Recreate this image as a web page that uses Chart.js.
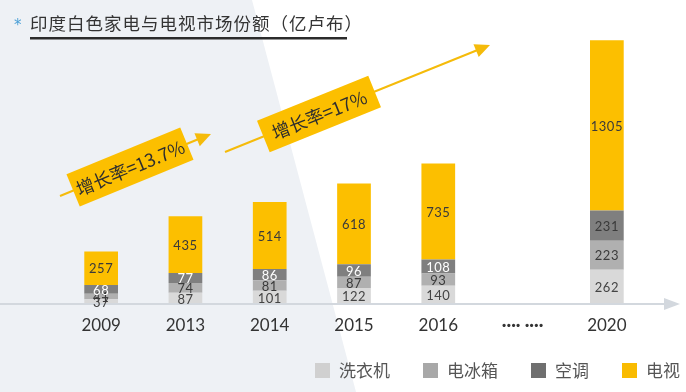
<!DOCTYPE html>
<html>
<head>
<meta charset="utf-8">
<script src="https://cdn.jsdelivr.net/npm/chart.js@4"></script>
<style>
  html, body { margin: 0; padding: 0; background: #fff; }
  #wrap { width: 686px; height: 392px; position: relative; }
</style>
</head>
<body>
<div id="wrap"><canvas id="marketChart"></canvas></div>
<script>
// data
var titleText = '印度白色家电与电视市场份额（亿卢布）';
var years = ['2009', '2013', '2014', '2015', '2016', '···· ····', '2020'];
var seriesNames = ['洗衣机', '电冰箱', '空调', '电视'];
var washer = [37, 87, 101, 122, 140, null, 262];
var fridge = [41, 74, 81, 87, 93, null, 223];
var aircon = [68, 77, 86, 96, 108, null, 231];
var tv = [257, 435, 514, 618, 735, null, 1305];
var growthLabels = ['增长率=13.7%', '增长率=17%'];

var colors = ['#d9d9d9', '#b0b0b0', '#7f7f7f', '#fcbf00'];
var legendColors = ['#d0d0d0', '#a8a8a8', '#6f6f6f', '#f9bb00'];
var labelColors = [
    function () { return '#444'; },
    function () { return '#3a3a3a'; },
    function (i) { return i === 6 ? '#3a3a3a' : '#ffffff'; },
    function () { return '#3a3a3a'; }
];

// background, axis line, title, arrows, legend, bar labels
var decoPlugin = {
    id: 'deco',
    beforeDraw: function (chart) {
        var ctx = chart.ctx;
        ctx.save();
        ctx.fillStyle = '#eef1f5';
        ctx.beginPath();
        ctx.moveTo(0, 0);
        ctx.lineTo(252, 0);
        ctx.lineTo(356, 392);
        ctx.lineTo(0, 392);
        ctx.closePath();
        ctx.fill();

        // title
        ctx.fillStyle = '#4a9fd6';
        ctx.font = '15px "DejaVu Sans"';
        ctx.textBaseline = 'middle';
        ctx.fillText('*', 14, 26);
        ctx.fillStyle = '#333';
        ctx.font = '17.5px "Noto Sans CJK SC"';
        ctx.letterSpacing = '1px';
        ctx.fillText(titleText, 30, 23);
        ctx.letterSpacing = '0px';
        ctx.fillStyle = '#2b2b2b';
        ctx.fillRect(30, 37, 317, 2.5);

        // growth arrows
        drawGrowth(ctx, 60, 196, 211, 134, 130, 167, 123, 35, growthLabels[0]);
        drawGrowth(ctx, 225, 152, 490, 45, 319, 114, 120, 34, growthLabels[1]);
        ctx.restore();
    },
    afterDatasetsDraw: function (chart) {
        var ctx = chart.ctx;
        var area = chart.chartArea;
        ctx.save();
        // axis line with arrow
        ctx.strokeStyle = '#d3d8de';
        ctx.lineWidth = 2;
        ctx.beginPath();
        ctx.moveTo(0, area.bottom);
        ctx.lineTo(668, area.bottom);
        ctx.stroke();
        ctx.fillStyle = '#d3d8de';
        ctx.beginPath();
        ctx.moveTo(680, area.bottom);
        ctx.lineTo(664, area.bottom - 6);
        ctx.lineTo(664, area.bottom + 6);
        ctx.closePath();
        ctx.fill();

        // segment labels
        ctx.font = '13px Lato';
        ctx.letterSpacing = '0.5px';
        ctx.textAlign = 'center';
        ctx.textBaseline = 'middle';
        chart.data.datasets.forEach(function (ds, di) {
            var meta = chart.getDatasetMeta(di);
            meta.data.forEach(function (el, i) {
                if (ds.data[i] == null) return;
                ctx.fillStyle = labelColors[di](i);
                ctx.fillText(String(ds.data[i]), el.x, (el.y + el.base) / 2 + 1);
            });
        });
        ctx.letterSpacing = '0px';

        // legend, right aligned
        ctx.font = '17px "Noto Sans CJK SC"';
        ctx.textAlign = 'left';
        var x = 680;
        var pos = [];
        for (var k = seriesNames.length - 1; k >= 0; k--) {
            var w = ctx.measureText(seriesNames[k]).width;
            x -= w;
            pos[k] = x;
            x -= 24 + 33;
        }
        seriesNames.forEach(function (name, k) {
            ctx.fillStyle = legendColors[k];
            ctx.fillRect(pos[k] - 24, 363, 15, 15);
            ctx.fillStyle = '#555';
            ctx.fillText(name, pos[k], 371);
        });
        ctx.restore();
    }
};

function drawGrowth(ctx, x0, y0, x1, y1, cx, cy, len, thick, text) {
    var ang = Math.atan2(y1 - y0, x1 - x0);
    ctx.save();
    ctx.strokeStyle = '#f5bb0a';
    ctx.fillStyle = '#f5bb0a';
    ctx.lineWidth = 2;
    ctx.beginPath();
    ctx.moveTo(x0, y0);
    ctx.lineTo(x1 - 10 * Math.cos(ang), y1 - 10 * Math.sin(ang));
    ctx.stroke();
    ctx.translate(x1, y1);
    ctx.rotate(ang);
    ctx.beginPath();
    ctx.moveTo(0, 0);
    ctx.lineTo(-15, -7);
    ctx.lineTo(-15, 7);
    ctx.closePath();
    ctx.fill();
    ctx.restore();

    ctx.save();
    ctx.translate(cx, cy);
    ctx.rotate(ang);
    ctx.fillStyle = '#fcbf00';
    ctx.fillRect(-len / 2, -thick / 2, len, thick);
    ctx.fillStyle = '#2e2e2e';
    ctx.font = '18px "Noto Sans CJK SC"';
    ctx.textAlign = 'center';
    ctx.textBaseline = 'middle';
    ctx.fillText(text, 0, 1);
    ctx.restore();
}

var seriesData = [washer, fridge, aircon, tv];
var datasets = seriesNames.map(function (name, i) {
    return {
        label: name,
        data: seriesData[i],
        backgroundColor: colors[i],
        borderWidth: 0,
        categoryPercentage: 1,
        barPercentage: 0.4
    };
});

var chart = new Chart(document.getElementById('marketChart'), {
    type: 'bar',
    data: { labels: years, datasets: datasets },
    options: {
        responsive: true,
        maintainAspectRatio: false,
        animation: false,
        layout: { padding: { left: 59, right: 37, top: 30, bottom: 0 } },
        plugins: {
            legend: { display: false },
            title: { display: false },
            tooltip: { enabled: false }
        },
        scales: {
            x: {
                stacked: true,
                grid: { display: false, drawTicks: false },
                border: { display: false },
                ticks: {
                    color: '#333',
                    padding: 11,
                    font: function (c) {
                        return c.index === 5 ? { family: 'Lato', size: 17, weight: 'bold' } : { family: 'Lato', size: 17 };
                    }
                },
                afterFit: function (s) { s.height = 88; }
            },
            y: {
                stacked: true,
                display: false,
                min: 0,
                max: 2100
            }
        }
    },
    plugins: [decoPlugin]
});
</script>
</body>
</html>
